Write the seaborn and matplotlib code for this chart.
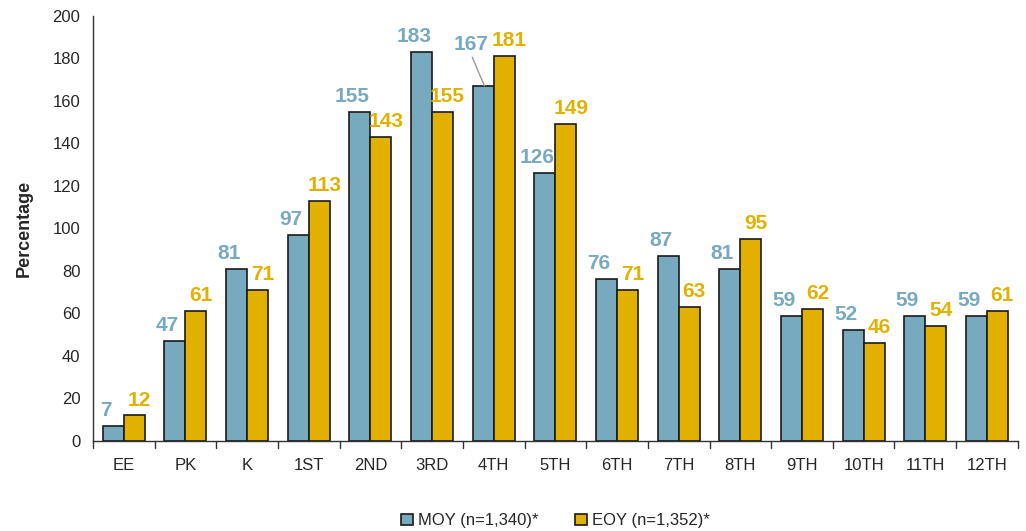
import numpy as np
import pandas as pd
import matplotlib
matplotlib.use("Agg")
import matplotlib.pyplot as plt
import seaborn as sns
from matplotlib import font_manager

grades = ["EE", "PK", "K", "1ST", "2ND", "3RD", "4TH", "5TH", "6TH", "7TH", "8TH", "9TH", "10TH", "11TH", "12TH"]
moy = [7, 47, 81, 97, 155, 183, 167, 126, 76, 87, 81, 59, 52, 59, 59]
eoy = [12, 61, 71, 113, 143, 155, 181, 149, 71, 63, 95, 62, 46, 54, 61]
series = ["MOY (n=1,340)*", "EOY (n=1,352)*"]

blue = "#77A9BF"
gold = "#E2B100"

sns.set_style("white")
plt.rcParams['font.family'] = ['Liberation Sans', 'DejaVu Sans']

names = {f.name for f in font_manager.fontManager.ttflist}
narrow = "Liberation Sans Narrow" in names
lab_family = ['Liberation Sans Narrow', 'Liberation Sans'] if narrow else ['Liberation Sans']
lab_size = 17 if narrow else 15

df = pd.DataFrame({
    "grade": grades * 2,
    "value": moy + eoy,
    "series": [series[0]] * len(grades) + [series[1]] * len(grades),
})

fig = plt.figure(figsize=(10.26, 5.31), dpi=100)
ax = fig.add_axes([0.0906, 0.1695, 0.9014, 0.8005])
sns.barplot(data=df, x="grade", y="value", hue="series", order=grades,
            hue_order=series, palette=[blue, gold], width=0.68,
            edgecolor="#1a1a1a", linewidth=1.2, saturation=1, ax=ax, legend=True)

ax.set_xlim(-0.5, len(grades) - 0.5)
ax.set_ylim(0, 200)
ax.set_yticks(range(0, 201, 20))
ax.tick_params(axis="y", labelsize=12, length=5, width=1, color="#333333", direction="out", pad=4)
ax.set_xticks(range(len(grades)))
ax.set_xticklabels(grades, fontsize=12)
ax.tick_params(axis="x", length=0, pad=12)
# boundary ticks
for b in np.arange(-0.5, len(grades), 1.0):
    ax.plot([b, b], [0, -3.5], color="#333333", lw=1, clip_on=False)
ax.set_xlabel("")
ax.set_ylabel("Percentage", fontsize=13, fontweight="bold", labelpad=14)
for s in ["top", "right"]:
    ax.spines[s].set_visible(False)
for s in ["left", "bottom"]:
    ax.spines[s].set_color("#333333")
    ax.spines[s].set_linewidth(1)

# labels
cont_m, cont_e = ax.containers[0], ax.containers[1]
for i, (bm, be) in enumerate(zip(cont_m, cont_e)):
    xm = bm.get_x() + bm.get_width() / 2
    xe = be.get_x() + be.get_width() / 2
    if grades[i] == "4TH":
        ax.annotate(str(moy[i]), xy=(xm + 0.02, moy[i]), xytext=(xm - 0.2, moy[i] + 17),
                    ha="center", va="baseline", color=blue, fontsize=lab_size, fontweight="bold",
                    family=lab_family,
                    arrowprops=dict(arrowstyle="-", color="#999999", lw=1, shrinkA=0, shrinkB=0,
                                    relpos=(0.5, 0)))
    else:
        ax.text(xm - 0.12, moy[i] + 4.7, str(moy[i]), ha="center", va="baseline",
                color=blue, fontsize=lab_size, fontweight="bold", family=lab_family)
    ax.text(xe + 0.08, eoy[i] + 4.7, str(eoy[i]), ha="center", va="baseline",
            color=gold, fontsize=lab_size, fontweight="bold", family=lab_family)

handles, labels = ax.get_legend_handles_labels()
ax.legend(handles, labels, loc="upper center", bbox_to_anchor=(0.5, -0.135), ncol=2,
          frameon=False, fontsize=12, handlelength=0.7, handleheight=0.7,
          handletextpad=0.3, columnspacing=2.2)

fig.savefig("out.png", dpi=100)
